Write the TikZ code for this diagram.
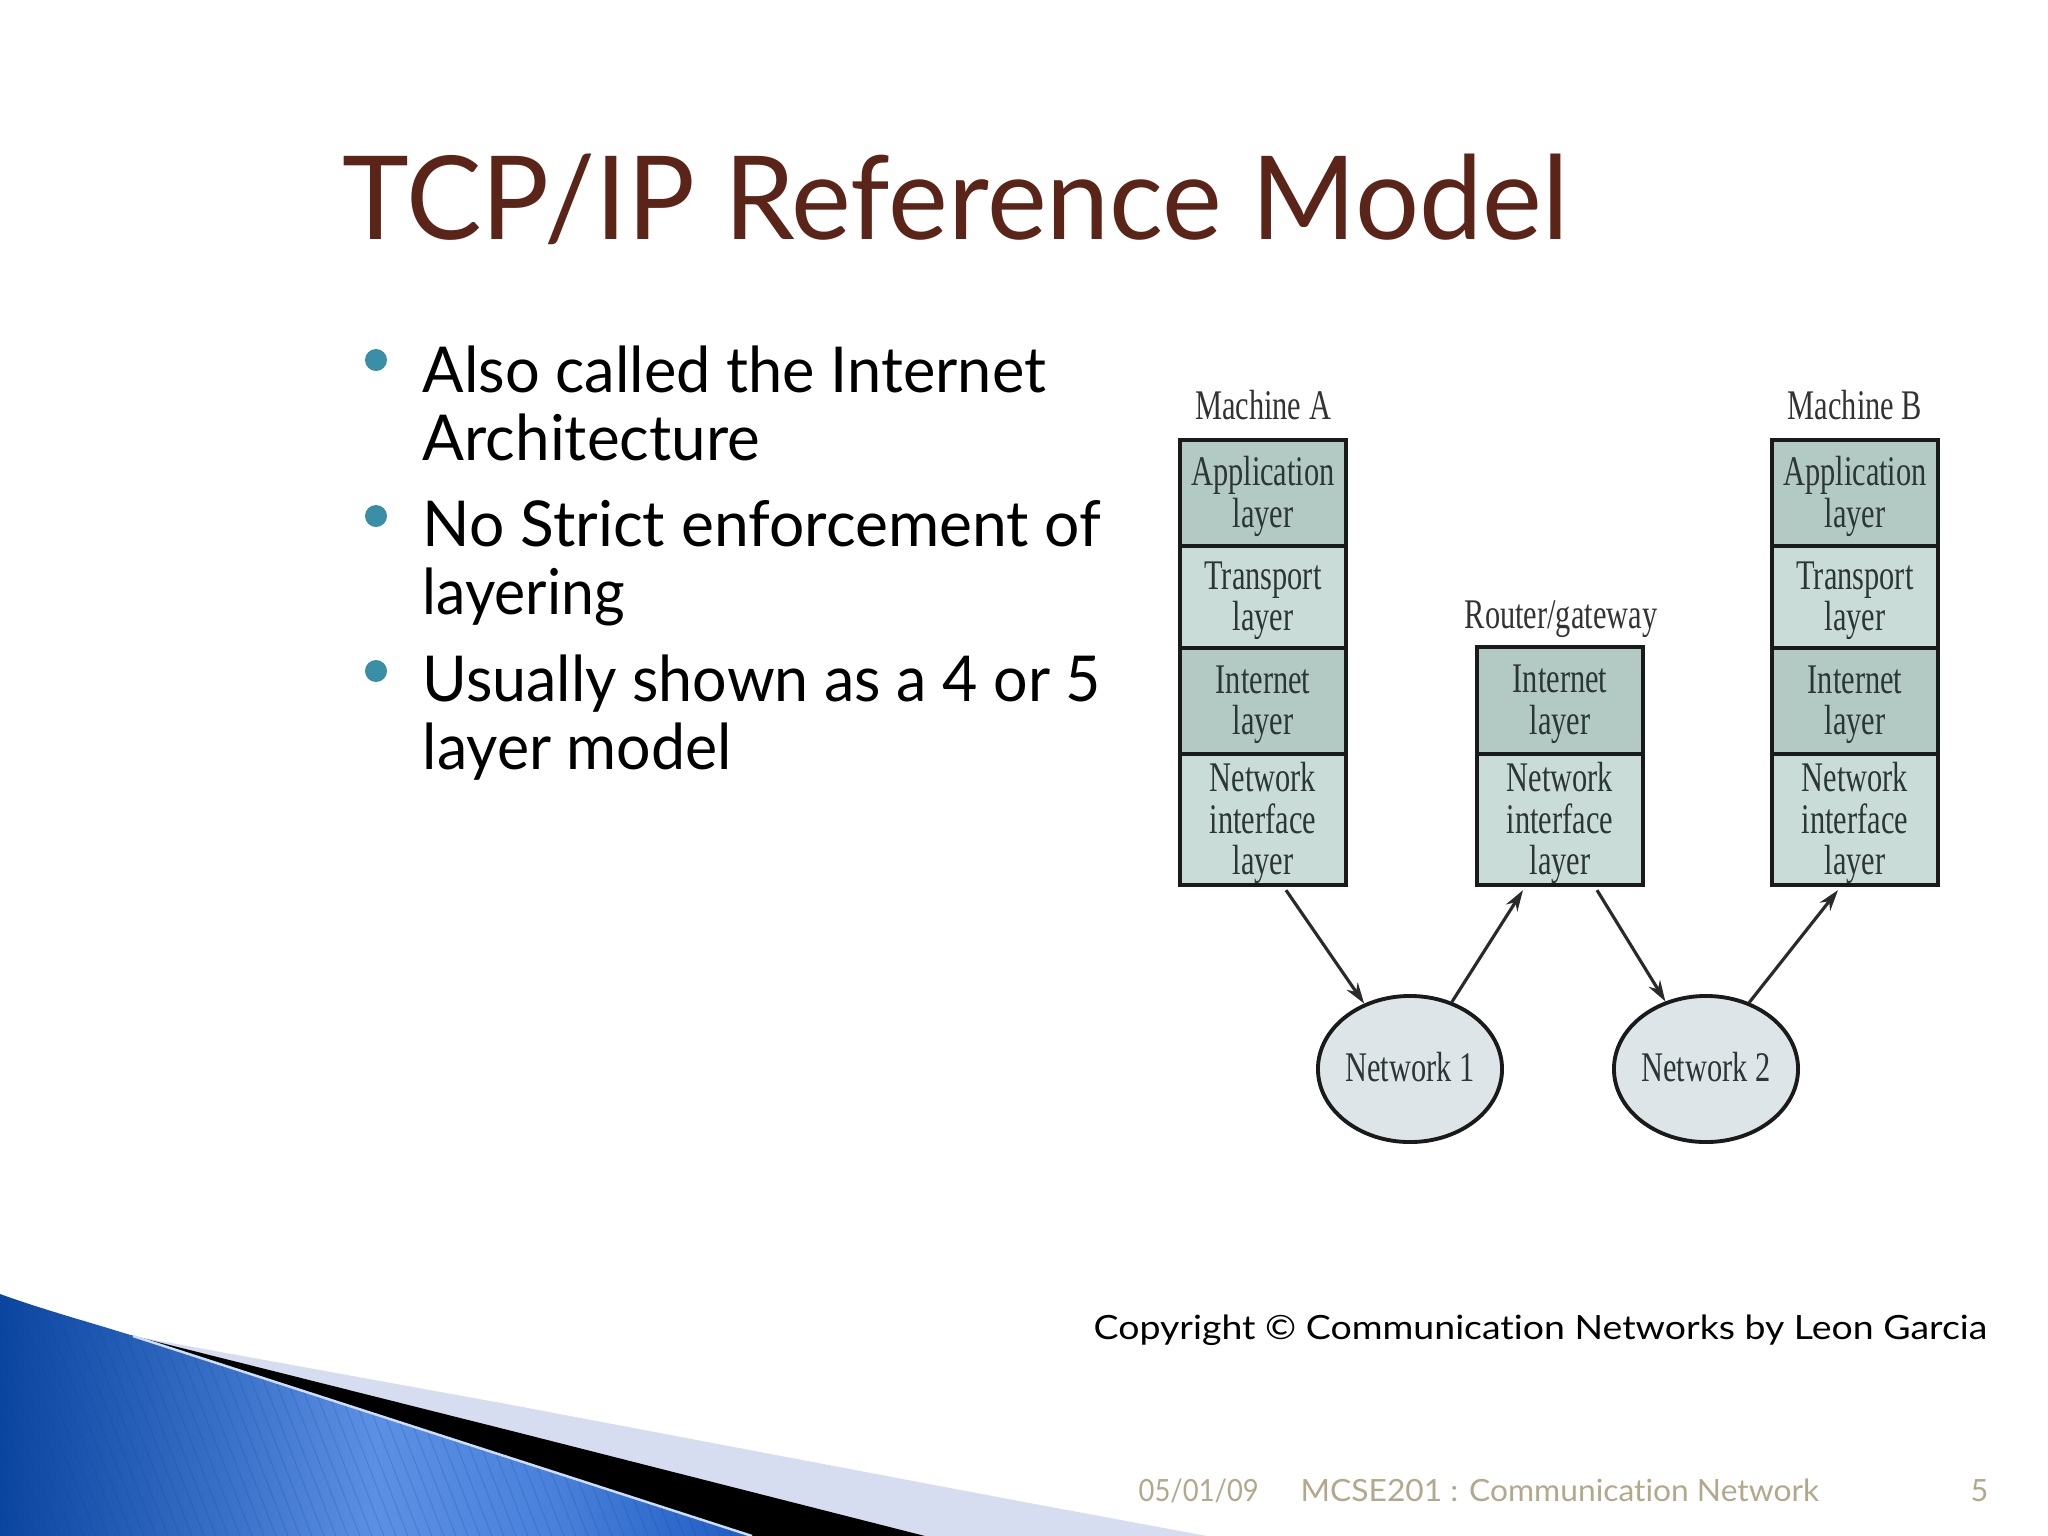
\documentclass[tikz,border=0pt]{standalone}
\usepackage{fontspec}
\setmainfont{Lato}[Ligatures={NoCommon,NoContextual}]
\newfontfamily\diagfont{Liberation Serif}
\usepackage{graphicx}
\usetikzlibrary{shapes.geometric,arrows.meta,calc}

\definecolor{titlec}{HTML}{5A2419}
\definecolor{bulletc}{HTML}{3A8FA6}
\definecolor{footc}{HTML}{B2A98C}
\definecolor{layerdark}{HTML}{B2C9C4}
\definecolor{layerlight}{HTML}{C9DCD8}
\definecolor{netfill}{HTML}{DDE5E8}
\definecolor{dtext}{HTML}{2C3635}
\definecolor{labelc}{HTML}{333333}
\definecolor{boxline}{HTML}{1A1A1A}
\definecolor{arrowc}{HTML}{2A2A2A}
\definecolor{lav}{HTML}{D6DDF0}
\definecolor{blueA}{HTML}{0A45A0}
\definecolor{blueB}{HTML}{5C90E4}
\definecolor{blueC}{HTML}{1E5CC2}

\pgfdeclarehorizontalshading{swooshblue}{100bp}{%
  color(0bp)=(blueA); color(25bp)=(blueA); color(38bp)=(blueA!50!blueB);
  color(50bp)=(blueB); color(62bp)=(blueB!70!blueC); color(75bp)=(blueC);
  color(100bp)=(blueC)}

\newcommand\dtx[1]{\scalebox{0.72}[1]{\begin{tabular}{@{}c@{}}#1\end{tabular}}}
\newcommand\btx[1]{\raisebox{-0.05cm}[\height][\depth]{\dtx{#1}}}
\newcommand\fitw[2]{\resizebox{#1cm}{\height}{#2}}

\tikzset{
  layerbox/.style={draw=boxline, line width=1.2pt, minimum width=1.66cm, inner sep=0pt,
    font=\diagfont\fontsize{12}{11.4}\selectfont, text=dtext},
  darkbox/.style={layerbox, fill=layerdark},
  lightbox/.style={layerbox, fill=layerlight},
  netnode/.style={ellipse, draw=boxline, line width=1.1pt, fill=netfill,
    minimum width=1.84cm, minimum height=1.46cm, inner sep=0pt,
    font=\diagfont\fontsize{12}{12}\selectfont, text=dtext},
  conn/.style={draw=arrowc, line width=0.9pt, -{Stealth[length=6pt,width=3.8pt]}},
  mlabel/.style={font=\diagfont\fontsize{12}{12}\selectfont, text=labelc, anchor=base, inner sep=0pt},
  btext/.style={anchor=base west, inner sep=0pt, font=\fontsize{18}{20}\selectfont, text=black},
  bulletdot/.style={circle, fill=bulletc, minimum size=0.22cm, inner sep=0pt},
  foottext/.style={anchor=base west, inner sep=0pt, font=\fontsize{8.7}{10}\selectfont, text=footc},
}

\begin{document}
\begin{tikzpicture}[x=0.01cm, y=-0.01cm]
\useasboundingbox (0,0) rectangle (2048,1536);
\fill[white] (0,0) rectangle (2048,1536);

% bottom-left swoosh
\fill[lav] (122,1334) -- (512,1405) -- (1024,1502) -- (1207,1536) -- (0,1536) -- cycle;
\fill[black] (118,1332) -- (512,1431) -- (925,1536) -- (0,1536) -- cycle;
\shade[shading=swooshblue]
  (0,1294) .. controls (50,1312) and (100,1325) .. (133,1336) -- (752,1536) -- (0,1536) -- cycle;
\begin{scope}
  \clip (0,1294) .. controls (50,1312) and (100,1325) .. (133,1336) -- (752,1536) -- (0,1536) -- cycle;
  \foreach \i in {-120,-108,...,760} {
    \draw[blueA, opacity=0.18, line width=0.35pt] (\i,1290) -- ({\i+96},1536);
  }
\end{scope}
\draw[white!70!blueB, line width=0.7pt] (133,1336) -- (752,1536);

% title
\node[anchor=base west, inner sep=0pt, text=titlec, font=\fontsize{33}{36}\selectfont] (title)
  at (342,239) {\fitw{12.25}{TCP/IP Reference Model}};

% bullets
\node[bulletdot] (d1) at (376,360) {};
\node[btext] (b1a) at (422,392) {\fitw{6.23}{Also called the Internet}};
\node[btext] (b1b) at (422,460) {\fitw{3.37}{Architecture}};
\node[bulletdot] (d2) at (376,516) {};
\node[btext] (b2a) at (422,546) {\fitw{6.78}{No Strict enforcement of}};
\node[btext] (b2b) at (422,614) {\fitw{2.02}{layering}};
\node[bulletdot] (d3) at (376,671) {};
\node[btext] (b3a) at (422,701) {\fitw{6.78}{Usually shown as a 4 or 5}};
\node[btext] (b3b) at (422,769) {\fitw{3.09}{layer model}};

% Machine A
\node[mlabel] (lA) at (1263,422) {\dtx{Machine A}};
\node[darkbox,  minimum height=1.06cm] (A1) at (1263,493) {\btx{Application\\layer}};
\node[lightbox, minimum height=1.02cm] (A2) at (1263,597) {\btx{Transport\\layer}};
\node[darkbox,  minimum height=1.06cm] (A3) at (1263,701) {\btx{Internet\\layer}};
\node[lightbox, minimum height=1.31cm] (A4) at (1263,819.5) {\btx{Network\\interface\\layer}};

% Router
\node[mlabel] (lR) at (1561,631) {\dtx{Router/gateway}};
\node[darkbox,  minimum height=1.07cm] (R1) at (1560,700.5) {\btx{Internet\\layer}};
\node[lightbox, minimum height=1.31cm] (R2) at (1560,819.5) {\btx{Network\\interface\\layer}};

% Machine B
\node[mlabel] (lB) at (1855,422) {\dtx{Machine B}};
\node[darkbox,  minimum height=1.06cm] (B1) at (1855,493) {\btx{Application\\layer}};
\node[lightbox, minimum height=1.02cm] (B2) at (1855,597) {\btx{Transport\\layer}};
\node[darkbox,  minimum height=1.06cm] (B3) at (1855,701) {\btx{Internet\\layer}};
\node[lightbox, minimum height=1.31cm] (B4) at (1855,819.5) {\btx{Network\\interface\\layer}};

% Networks
\node[netnode] (N1) at (1410,1069) {\raisebox{-0.04cm}[\height][\depth]{\dtx{Network 1}}};
\node[netnode] (N2) at (1706,1069) {\raisebox{-0.04cm}[\height][\depth]{\dtx{Network 2}}};

% connectors
\draw[conn] ($(A4.south)+(23,3)$) -- (N1.125);
\draw[conn] (N1.58) -- ($(R2.south)+(-37,3)$);
\draw[conn] ($(R2.south)+(37,3)$) -- (N2.121);
\draw[conn] (N2.57) -- ($(B4.south)+(-17,3)$);

% copyright and footer
\node[anchor=base west, inner sep=0pt, font=\fontsize{9.5}{11}\selectfont, text=black] (copy)
  at (1093,1339) {\fitw{8.93}{Copyright © Communication Networks by Leon Garcia}};
\node[foottext] (date) at (1138,1501) {\fitw{1.20}{05/01/09}};
\node[foottext] (course) at (1300,1501) {\fitw{5.18}{MCSE201 : Communication Network}};
\node[foottext, anchor=base east] (page) at (1989,1501) {5};
\end{tikzpicture}
\end{document}
